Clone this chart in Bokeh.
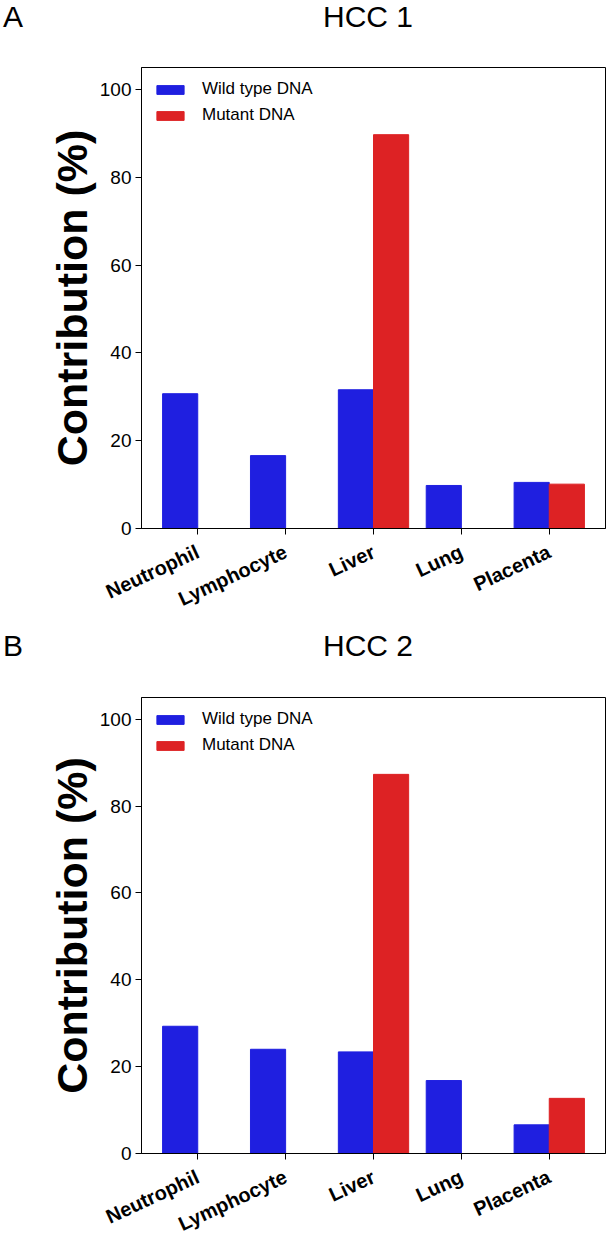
from bokeh.plotting import figure
from bokeh.models import ColumnDataSource, Range1d, FixedTicker, Div
from bokeh.layouts import column
from bokeh.embed import file_html
from bokeh.resources import INLINE

# ---- data ----
tissues = ["Neutrophil", "Lymphocyte", "Liver", "Lung", "Placenta"]
hcc1_wild = [30.7, 16.6, 31.6, 9.8, 10.5]
hcc1_mutant = [0, 0, 89.7, 0, 10.1]
hcc2_wild = [29.3, 24.0, 23.4, 16.8, 6.6]
hcc2_mutant = [0, 0, 87.3, 0, 12.7]
y_ticks = [0, 20, 40, 60, 80, 100]
panel_letters = ["A", "B"]
panel_titles = ["HCC 1", "HCC 2"]
series_names = ["Wild type DNA", "Mutant DNA"]
y_label = "Contribution (%)"

BLUE = "#1f1fe0"
RED = "#dd2224"
FONT = "Liberation Sans"
W = 606


def make_header(letter, title, height, top):
    html = (
        f'<div style="position:relative;width:{W}px;height:{height}px;'
        f"font-family:'Liberation Sans',Arial,sans-serif;font-size:30px;color:#000;"
        f'line-height:30px;white-space:nowrap;">'
        f'<span style="position:absolute;left:3px;top:{top}px;">{letter}</span>'
        f'<span style="position:absolute;left:268px;width:200px;text-align:center;'
        f'top:{top}px;">{title}</span></div>'
    )
    return Div(text=html, width=W, height=height, margin=0)


def make_panel(wild, mutant, height, border_top, border_bottom):
    p = figure(width=W, height=height, output_backend="svg", toolbar_location=None,
               x_range=Range1d(-0.64, 4.64), y_range=Range1d(0, 105),
               min_border_left=141, min_border_right=1,
               min_border_top=border_top, min_border_bottom=border_bottom)
    xs = list(range(len(tissues)))
    src_w = ColumnDataSource(dict(x=[i - 0.2 for i in xs], top=wild))
    mi = [i for i, v in enumerate(mutant) if v > 0]
    src_m = ColumnDataSource(dict(x=[i + 0.2 for i in mi], top=[mutant[i] for i in mi]))
    p.vbar(x="x", top="top", width=0.4, source=src_w, fill_color=BLUE,
           line_color=BLUE, legend_label=series_names[0])
    p.vbar(x="x", top="top", width=0.4, source=src_m, fill_color=RED,
           line_color=RED, legend_label=series_names[1])

    p.xgrid.visible = False
    p.ygrid.visible = False
    p.background_fill_color = "white"
    p.border_fill_color = "white"
    p.outline_line_color = "black"
    p.outline_line_width = 1
    p.outline_line_alpha = 1

    xa = p.xaxis[0]
    xa.ticker = FixedTicker(ticks=xs)
    xa.major_label_overrides = {i: t for i, t in enumerate(tissues)}
    xa.major_label_orientation = 0.436
    xa.major_label_text_font = FONT
    xa.major_label_text_font_style = "bold"
    xa.major_label_text_font_size = "20px"
    xa.major_label_text_color = "black"
    xa.major_label_standoff = 16
    xa.major_tick_in = 0
    xa.major_tick_out = 6
    xa.minor_tick_in = 0
    xa.minor_tick_out = 0
    xa.axis_line_color = "black"
    xa.major_tick_line_color = "black"

    ya = p.yaxis[0]
    ya.ticker = FixedTicker(ticks=y_ticks)
    ya.major_label_text_font = FONT
    ya.major_label_text_font_size = "19px"
    ya.major_label_text_color = "black"
    ya.major_label_standoff = 4
    ya.major_tick_in = 0
    ya.major_tick_out = 6
    ya.minor_tick_in = 0
    ya.minor_tick_out = 0
    ya.axis_line_color = "black"
    ya.major_tick_line_color = "black"
    ya.axis_label = y_label
    ya.axis_label_text_font = FONT
    ya.axis_label_text_font_style = "bold"
    ya.axis_label_text_font_size = "43px"
    ya.axis_label_text_color = "black"
    ya.axis_label_standoff = 1

    lg = p.legend[0]
    lg.location = "top_left"
    lg.border_line_color = None
    lg.background_fill_alpha = 0
    lg.label_text_font = FONT
    lg.label_text_font_size = "17px"
    lg.label_text_color = "black"
    lg.glyph_width = 34
    lg.glyph_height = 11
    lg.label_standoff = 15
    lg.label_height = 18
    lg.spacing = 6
    lg.margin = 12
    lg.padding = 7
    return p


h1 = make_header(panel_letters[0], panel_titles[0], 38, 2)
p1 = make_panel(hcc1_wild, hcc1_mutant, 592, 29, 102)
h2 = make_header(panel_letters[1], panel_titles[1], 38, 1)
p2 = make_panel(hcc2_wild, hcc2_mutant, 579, 29, 87)

layout = column(h1, p1, h2, p2, spacing=0)
open("out.html", "w").write(file_html(layout, INLINE))
